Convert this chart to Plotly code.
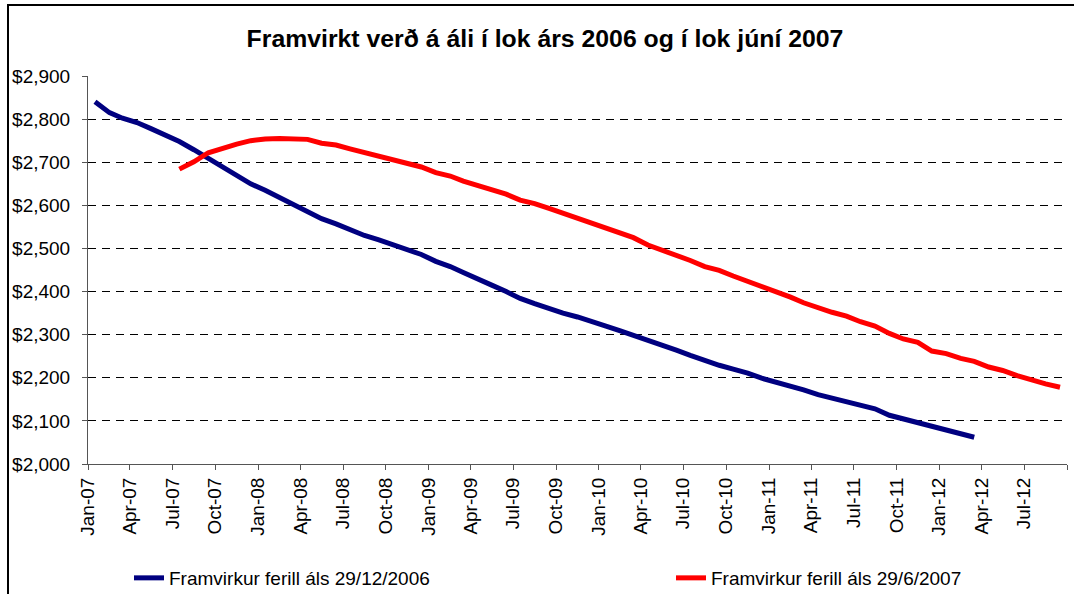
import pandas as pd
import plotly.graph_objects as go

# Monthly forward curve values (USD / tonne)
blue_start = "2007-01-01"
blue_values = [2840, 2815, 2802, 2792, 2778, 2763, 2748, 2729, 2709, 2690,
               2670, 2650, 2635, 2618, 2600, 2583, 2569, 2557, 2543, 2530,
               2520, 2508, 2497, 2486, 2470, 2458, 2444, 2428, 2415, 2400,
               2384, 2372, 2360, 2350, 2341, 2332, 2320, 2309, 2299, 2285,
               2276, 2264, 2252, 2239, 2229, 2220, 2211, 2199, 2190, 2183,
               2172, 2161, 2153, 2145, 2136, 2128, 2113, 2105, 2097, 2088,
               2080, 2070, 2062]

red_start = "2007-07-01"
red_values = [2684, 2701, 2722, 2733, 2742, 2750, 2754, 2755, 2755, 2753,
              2744, 2740, 2731, 2722, 2714, 2706, 2697, 2689, 2676, 2668,
              2656, 2646, 2635, 2626, 2612, 2604, 2593, 2582, 2568, 2557,
              2548, 2536, 2525, 2508, 2497, 2485, 2472, 2458, 2449, 2436,
              2424, 2413, 2400, 2387, 2374, 2362, 2352, 2343, 2330, 2320,
              2303, 2290, 2282, 2262, 2256, 2245, 2238, 2225, 2217, 2205,
              2195, 2186, 2178]

series_names = ["Framvirkur ferill áls 29/12/2006", "Framvirkur ferill áls 29/6/2007"]
series_colors = ["#000080", "#FF0000"]
title_text = "Framvirkt verð á áli í lok árs 2006 og í lok júní 2007"

y_ticks = list(range(2000, 3000, 100))


def month_dates(start, n):
    # points sit in the middle of each month (date-axis style)
    return pd.date_range(start, periods=n, freq="MS") + pd.Timedelta(days=15)


fig = go.Figure()
fig.add_trace(go.Scatter(x=month_dates(blue_start, len(blue_values)), y=blue_values,
                         mode="lines", name=series_names[0], legend="legend",
                         line=dict(color=series_colors[0], width=5)))
fig.add_trace(go.Scatter(x=month_dates(red_start, len(red_values)), y=red_values,
                         mode="lines", name=series_names[1], legend="legend2",
                         line=dict(color=series_colors[1], width=5)))

W, H = 1074, 594
L, R, T, B = 88, 7, 76, 130
pw = W - L - R
ph = H - T - B

font_family = "Liberation Sans, Arial, sans-serif"
leg_y = -(578 - (T + ph)) / ph

fig.update_layout(
    width=W, height=H,
    margin=dict(l=L, r=R, t=T, b=B, pad=0, autoexpand=False),
    paper_bgcolor="white", plot_bgcolor="white",
    font=dict(family=font_family, color="black", size=18),
    title=dict(text="<b>" + title_text + "</b>", x=545 / W, xref="container",
               xanchor="center", y=1 - 38 / H, yanchor="middle",
               font=dict(size=24.8, family=font_family)),
    showlegend=True,
    legend=dict(orientation="h", x=(129 - L) / pw, xanchor="left",
                y=leg_y, yanchor="middle", font=dict(size=19),
                bgcolor="rgba(0,0,0,0)"),
    legend2=dict(orientation="h", x=(671 - L) / pw, xanchor="left",
                 y=leg_y, yanchor="middle", font=dict(size=19),
                 bgcolor="rgba(0,0,0,0)"),
    xaxis=dict(type="date", range=["2007-01-01", "2012-10-01"],
               tick0="2007-01-01", dtick="M3", tickformat="%b-%y",
               tickangle=-90, showgrid=False, showline=True,
               linecolor="#555555", linewidth=1, ticks="outside",
               ticklen=5, tickcolor="#555555", tickfont=dict(size=19),
               zeroline=False, automargin=False),
    yaxis=dict(range=[2000, 2900], tickvals=y_ticks,
               tickformat="$,.0f", showgrid=True, gridcolor="black",
               griddash="8px,6px", gridwidth=1, showline=True,
               linecolor="#555555", linewidth=1, ticks="outside",
               ticklen=5, tickcolor="#555555", tickfont=dict(size=19),
               ticklabelstandoff=8, zeroline=False, automargin=False),
    shapes=[dict(type="rect", xref="paper", yref="paper",
                 x0=(8 - L) / pw, x1=(W + 10 - L) / pw,
                 y0=-(H + 10 - T - ph) / ph, y1=1 + (T - 5) / ph,
                 line=dict(color="black", width=2), layer="below")],
)

fig.write_html("out.html", config={"displayModeBar": False},
               post_script="document.body.style.margin='0';document.body.style.overflow='hidden';")
